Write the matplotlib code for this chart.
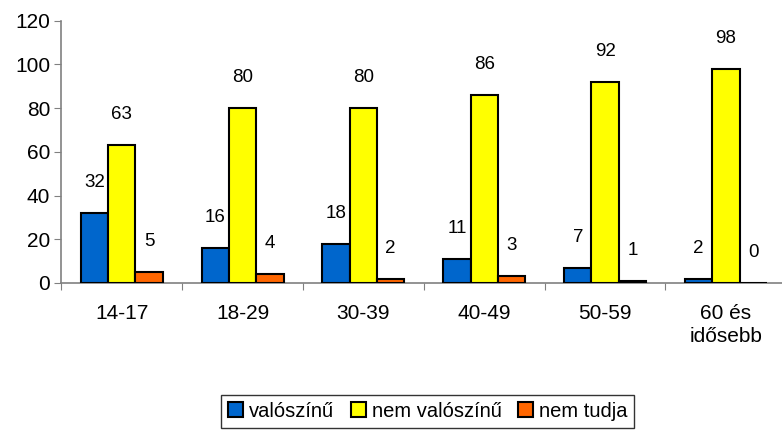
import numpy as np
import matplotlib.pyplot as plt

categories = ["14-17", "18-29", "30-39", "40-49", "50-59", "60 és\nidősebb"]
valoszinu = [32, 16, 18, 11, 7, 2]
nem_valoszinu = [63, 80, 80, 86, 92, 98]
nem_tudja = [5, 4, 2, 3, 1, 0]

series_names = ["valószínű", "nem valószínű", "nem tudja"]
colors = ["#0066CC", "#FFFF00", "#FF6600"]

plt.rcParams["font.family"] = ["Liberation Sans", "DejaVu Sans"]

fig = plt.figure(figsize=(7.82, 4.30), dpi=100)
ax = fig.add_axes([0.0785, 0.342, 0.927, 0.610])

x = np.arange(len(categories))
width = 0.226
handles = []
for i, (vals, name, col) in enumerate(zip([valoszinu, nem_valoszinu, nem_tudja],
                                          series_names, colors)):
    pos = x + (i - 1) * width
    bars = ax.bar(pos, vals, width, color=col, edgecolor="black", linewidth=1.5,
                  label=name, zorder=3)
    handles.append(bars)
    for p, v in zip(pos, vals):
        ax.annotate(str(v), (p, v), xytext=(0, 22), textcoords="offset points",
                    ha="center", va="center", fontsize=13.5)

ax.set_xlim(-0.5, len(categories) - 0.5)
ax.set_ylim(0, 120)
ax.set_yticks(range(0, 121, 20))
ax.tick_params(axis="y", labelsize=15, length=5, color="#808080", pad=3)

# category labels centred, tick marks on group boundaries
ax.set_xticks(np.arange(len(categories) + 1) - 0.5)
ax.set_xticklabels([])
ax.set_xticks(x, minor=True)
ax.set_xticklabels(categories, minor=True, fontsize=15, linespacing=1.3)
ax.tick_params(axis="x", which="major", length=5, color="#808080")
ax.tick_params(axis="x", which="minor", length=0, pad=15)

for s in ["top", "right"]:
    ax.spines[s].set_visible(False)
for s in ["left", "bottom"]:
    ax.spines[s].set_color("#808080")
    ax.spines[s].set_linewidth(1.2)

leg = fig.legend(handles=handles, loc="center", bbox_to_anchor=(0.547, 0.044),
                 ncol=3, fontsize=14.5, frameon=True, fancybox=False,
                 handlelength=0.75, handleheight=0.75, handletextpad=0.3,
                 columnspacing=0.8, borderpad=0.35, borderaxespad=0)
leg.get_frame().set_edgecolor("black")
leg.get_frame().set_linewidth(1.0)

fig.savefig("out.png", dpi=100)
